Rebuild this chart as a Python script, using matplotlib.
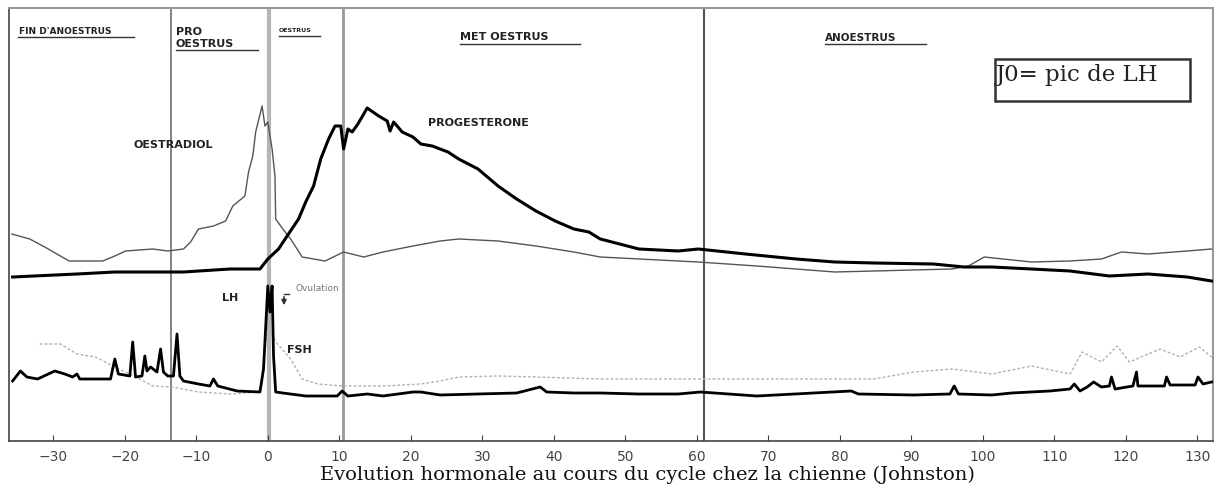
import numpy as np
import matplotlib.pyplot as plt
from matplotlib.patches import Rectangle

# days relative to LH peak (J0), hormone levels in arbitrary units
oestradiol_day = [-35.8, -33.3, -31.2, -29.5, -27.8, -23.1, -21.4, -19.9, -16.1, -14.0,
                  -11.8, -10.8, -9.7, -7.6, -5.9, -4.9, -3.2, -2.7, -2.1, -1.7,
                  -0.8, -0.4, 0.0, 0.3, 0.6, 1.0, 1.1, 2.1, 3.2, 4.8,
                  8.0, 10.6, 13.4, 16.1, 20.3, 24.1, 26.7, 32.2, 37.5, 42.8,
                  46.5, 60.2, 68.4, 79.3, 84.8, 95.7, 98.0, 100.2, 106.8, 112.2,
                  116.6, 119.4, 123.1, 128.6, 132.0]
oestradiol_val = [207, 202, 194, 187, 180, 180, 185, 190, 192, 190,
                  192, 199, 212, 215, 220, 235, 245, 269, 285, 309,
                  335, 315, 319, 305, 292, 265, 222, 212, 202, 184,
                  180, 189, 184, 189, 195, 200, 202, 200, 195, 189,
                  184, 179, 175, 169, 170, 172, 175, 184, 179, 180,
                  182, 189, 187, 190, 192]

progesterone_day = [-35.7, -26.7, -21.4, -11.8, -5.3, -1.1, 0.0, 1.5, 2.7, 4.3,
                    5.3, 6.4, 7.4, 8.5, 9.4, 10.2, 10.6, 11.2, 11.8, 12.6,
                    13.9, 15.5, 16.7, 17.1, 17.6, 18.8, 20.3, 21.4, 23.0, 25.2,
                    26.7, 29.4, 32.2, 34.8, 37.5, 40.2, 42.8, 44.9, 46.5, 51.9,
                    57.4, 60.2, 66.8, 73.9, 79.3, 84.8, 93.1, 97.4, 101.3, 106.8,
                    112.2, 117.7, 123.1, 128.6, 132.0]
progesterone_val = [164, 167, 169, 169, 172, 172, 182, 192, 205, 222,
                    239, 255, 282, 302, 315, 315, 292, 312, 309, 317,
                    333, 325, 320, 310, 319, 309, 304, 297, 295, 289,
                    282, 272, 255, 242, 230, 220, 212, 209, 202, 192,
                    190, 192, 187, 182, 179, 178, 177, 174, 174, 172,
                    170, 165, 167, 164, 160]

lh_day = [-35.7, -34.6, -33.7, -32.2, -29.8, -28.4, -27.3, -26.7, -26.3, -22.0,
          -21.4, -20.9, -19.3, -18.9, -18.5, -17.6, -17.2, -16.9, -16.4, -15.5,
          -15.0, -14.6, -14.0, -13.2, -12.7, -12.3, -11.8, -9.7, -8.1, -7.6,
          -7.0, -4.3, -1.1, -0.6, 0.0, 0.3, 0.6, 0.8, 1.1, 2.1,
          5.3, 9.7, 10.4, 11.2, 13.9, 16.1, 20.3, 21.4, 24.1, 29.4,
          34.8, 38.1, 39.0, 42.8, 46.5, 51.9, 57.4, 60.5, 68.4, 81.6,
          82.6, 90.3, 95.4, 96.0, 96.6, 101.3, 104.0, 109.4, 112.2, 112.8,
          113.6, 114.6, 115.5, 116.6, 117.7, 118.0, 118.5, 121.0, 121.5, 121.7,
          125.4, 125.7, 126.2, 129.7, 130.1, 130.8, 132.0]
lh_val = [60, 70, 64, 62, 70, 67, 64, 67, 62, 62,
          82, 67, 65, 99, 64, 65, 85, 70, 74, 69,
          92, 69, 65, 65, 107, 65, 60, 57, 55, 62,
          55, 50, 49, 72, 155, 129, 155, 85, 49, 48,
          45, 45, 50, 45, 47, 45, 49, 49, 46, 47,
          48, 54, 49, 48, 48, 47, 47, 49, 45, 50,
          47, 46, 47, 55, 47, 46, 48, 50, 52, 57,
          50, 54, 59, 54, 55, 64, 52, 55, 69, 55,
          55, 64, 56, 56, 64, 57, 59]

fsh_day = [-31.9, -29.0, -26.7, -24.1, -21.4, -18.8, -16.1, -13.4, -9.7, -5.3,
           -1.1, 0.0, 1.1, 3.2, 4.8, 7.0, 10.6, 16.1, 21.4, 24.1,
           26.7, 32.2, 37.5, 46.5, 62.8, 84.8, 90.3, 95.7, 101.3, 106.8,
           112.2, 113.9, 116.6, 118.8, 120.5, 124.8, 127.6, 130.3, 132.0]
fsh_val = [97, 97, 87, 84, 74, 65, 55, 54, 49, 47,
           49, 115, 99, 82, 62, 57, 55, 55, 57, 60,
           64, 65, 64, 62, 62, 62, 69, 72, 67, 75,
           67, 89, 79, 95, 79, 92, 84, 94, 84]

phase_bounds = [-13.6, 0.2, 10.5, 61.0]
phase_colors = ["#7a7a7a", "#b5b5b5", "#999999", "#555555"]
phase_widths = [1.3, 3.0, 2.0, 1.5]

xticks = list(range(-30, 131, 10))

fig = plt.figure(figsize=(12.14, 4.89), dpi=100)
ax = fig.add_axes([9 / 1214, 1 - 442 / 489, 1204 / 1214, 433 / 489])
ax.set_xlim(-36.2, 132.2)
ax.set_ylim(0, 433)

for b, c, w in zip(phase_bounds, phase_colors, phase_widths):
    ax.axvline(b, color=c, linewidth=w, zorder=1)

ax.plot(oestradiol_day, oestradiol_val, color="#555555", linewidth=1.0, zorder=3)
ax.plot(progesterone_day, progesterone_val, color="black", linewidth=2.2, zorder=4)
ax.plot(fsh_day, fsh_val, color="#b0b0b0", linewidth=1.0, linestyle=(0, (2, 1.5)), zorder=3)
ax.plot(lh_day, lh_val, color="black", linewidth=2.0, zorder=4)

ax.set_xticks(xticks)
ax.set_xticklabels([str(t).replace("-", "\u2212") for t in xticks])
ax.tick_params(axis="x", direction="in", length=4, pad=6, labelsize=10, colors="#444444")
ax.set_yticks([])
for s in ["left", "bottom"]:
    ax.spines[s].set_color("#444444")
    ax.spines[s].set_linewidth(1.2)
for s in ["top", "right"]:
    ax.spines[s].set_color("#999999")
    ax.spines[s].set_linewidth(1.5)


def to_ax(px, py):
    # pixel position of the original figure -> axes fraction
    return (px - 9) / 1204, (442 - py) / 433


def phase_label(text, px, py, size, ux0, ux1, uy):
    x, y = to_ax(px, py)
    ax.text(x, y, text, transform=ax.transAxes, fontsize=size, fontweight="bold",
            ha="left", va="center", color="#222222", linespacing=1.2)
    a0, b0 = to_ax(ux0, uy)
    a1, _ = to_ax(ux1, uy)
    ax.plot([a0, a1], [b0, b0], transform=ax.transAxes, color="#333333", linewidth=1.0)


phase_label("FIN D'ANOESTRUS", 19, 32, 6.5, 18, 134, 38)
phase_label("PRO\nOESTRUS", 176, 38, 8, 176, 258, 51)
phase_label("OESTRUS", 279, 31, 4.5, 279, 320, 37)
phase_label("MET OESTRUS", 460, 37, 8, 460, 580, 45)
phase_label("ANOESTRUS", 825, 38, 7.5, 825, 926, 45)

x, y = to_ax(995, 102)
w, _ = to_ax(1190, 0)
_, h = to_ax(0, 60)
ax.add_patch(Rectangle((x, y), w - x, h - y, transform=ax.transAxes,
                       fill=False, edgecolor="#333333", linewidth=1.8, zorder=5))
x, y = to_ax(996, 75)
ax.text(x, y, "J0= pic de LH", transform=ax.transAxes, fontsize=16.5,
        family="DejaVu Serif", ha="left", va="center", color="#222222")

for text, px, py, size in [("OESTRADIOL", 133, 145, 8), ("PROGESTERONE", 428, 123, 8),
                           ("LH", 222, 298, 8), ("FSH", 287, 350, 8)]:
    x, y = to_ax(px, py)
    ax.text(x, y, text, transform=ax.transAxes, fontsize=size, fontweight="bold",
            ha="left", va="center", color="#222222")

x, y = to_ax(296, 289)
ax.text(x, y, "Ovulation", transform=ax.transAxes, fontsize=6.5,
        ha="left", va="center", color="#777777")
x0, y0 = to_ax(284, 295)
x1, y1 = to_ax(284, 309)
ax.annotate("", xy=(x1, y1), xytext=(x0, y0), xycoords="axes fraction",
            arrowprops=dict(arrowstyle="-|>", color="#333333", lw=1.2, mutation_scale=7))
x2, _ = to_ax(289, 295)
ax.plot([x0, x2], [y0, y0], transform=ax.transAxes, color="#333333", linewidth=1.0)

fig.text(647 / 1214, 1 - 475 / 489, "Evolution hormonale au cours du cycle chez la chienne (Johnston)",
         fontsize=14, family="DejaVu Serif", ha="center", va="center", color="#111111")

fig.savefig("out.png", dpi=100, facecolor="white")
